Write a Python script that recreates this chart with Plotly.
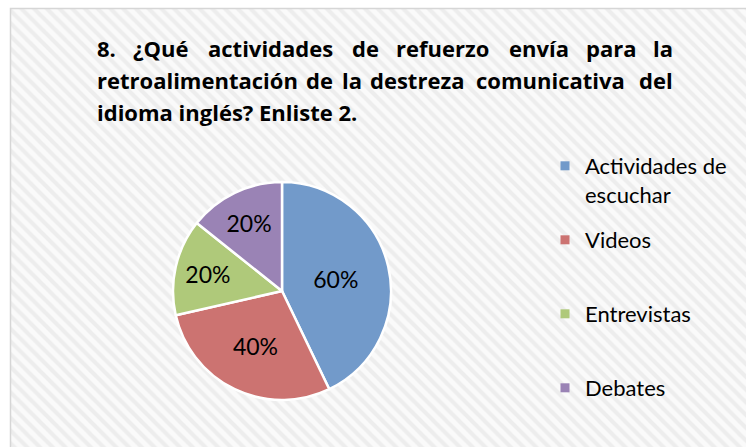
import plotly.graph_objects as go

# Figure size in pixels
W, H = 746, 447

# Survey answers: reinforcement activities (two answers per respondent)
categories = ["Actividades de escuchar", "Videos", "Entrevistas", "Debates"]
legend_labels = ["Actividades de<br>escuchar", "Videos", "Entrevistas", "Debates"]
values = [60, 40, 20, 20]
slice_colors = ["#729ACA", "#CC7371", "#AFC97A", "#9A83B5"]

# Title, split into its three printed lines
title_lines = [
    ["8.", "¿Qué", "actividades", "de", "refuerzo", "envía", "para", "la"],
    ["retroalimentación", "de", "la", "destreza", "comunicativa", "del"],
    ["idioma inglés? Enliste 2."],
]

FONT = "Lato"
TITLE_FONT = "Open Sans"
TITLE_LEFT, TITLE_RIGHT = 95, 675
TITLE_Y = [48, 80, 112]
# centres of the inner words on the justified lines
TITLE_INNER_X = [
    [160, 270, 365, 442, 539, 611],
    [319, 352, 417, 550],
    [],
]

# pie geometry (pixels)
PIE_CX, PIE_CY, PIE_R = 282, 291, 109


def px_x(x):
    return x / W


def px_y(y):
    return 1 - y / H


fig = go.Figure()

# hatched chart area
CX0, CY0 = 10.5, 8.5
fig.add_trace(go.Scatter(
    x=[CX0, W + 5, W + 5, CX0, CX0],
    y=[CY0, CY0, H + 5, H + 5, CY0],
    mode="lines",
    line=dict(width=0, color="rgba(0,0,0,0)"),
    fill="toself",
    fillcolor="white",
    fillpattern=dict(shape="\\", size=9, solidity=0.45,
                     fgcolor="#e0e0e0", bgcolor="#fafafa"),
    hoverinfo="skip",
    showlegend=False,
))

# pie
fig.add_trace(go.Pie(
    labels=categories,
    values=values,
    sort=False,
    direction="clockwise",
    rotation=0,
    marker=dict(colors=slice_colors, line=dict(color="white", width=2.5)),
    texttemplate="%{value}%",
    textposition="inside",
    insidetextorientation="horizontal",
    textfont=dict(family=FONT, size=23, color="black"),
    domain=dict(x=[px_x(PIE_CX - PIE_R), px_x(PIE_CX + PIE_R)],
                y=[px_y(PIE_CY + PIE_R), px_y(PIE_CY - PIE_R)]),
    showlegend=False,
    hoverinfo="skip",
))

# legend entries, each in its own legend box
LEG_TEXT_X = 585
LEG_Y = [180.5, 240, 314, 388]
for i, (lab, col) in enumerate(zip(legend_labels, slice_colors)):
    name = "legend" if i == 0 else f"legend{i + 1}"
    fig.add_trace(go.Scatter(
        x=[None], y=[None], mode="markers", name=lab,
        marker=dict(symbol="square", size=9, color=col),
        legend=name, showlegend=True,
    ))
    fig.update_layout({name: dict(
        x=px_x(LEG_TEXT_X - 40), y=px_y(LEG_Y[i]),
        xanchor="left", yanchor="middle",
        bgcolor="rgba(0,0,0,0)", borderwidth=0,
        valign="top", itemclick=False,
        font=dict(family=FONT, size=22, color="black"),
    )})

# title, justified word by word
annotations = []
tf = dict(family=TITLE_FONT, size=22, color="black")
for words, y, inner in zip(title_lines, TITLE_Y, TITLE_INNER_X):
    annotations.append(dict(x=TITLE_LEFT, y=y, xref="x", yref="y",
                            text=f"<b>{words[0]}</b>", showarrow=False,
                            xanchor="left", yanchor="middle", font=tf))
    if len(words) == 1:
        continue
    for w, cx in zip(words[1:-1], inner):
        annotations.append(dict(x=cx, y=y, xref="x", yref="y",
                                text=f"<b>{w}</b>", showarrow=False,
                                xanchor="center", yanchor="middle", font=tf))
    annotations.append(dict(x=TITLE_RIGHT, y=y, xref="x", yref="y",
                            text=f"<b>{words[-1]}</b>", showarrow=False,
                            xanchor="right", yanchor="middle", font=tf))

fig.update_layout(
    width=W, height=H,
    margin=dict(l=0, r=0, t=0, b=0),
    paper_bgcolor="white",
    plot_bgcolor="white",
    xaxis=dict(range=[0, W], visible=False, fixedrange=True),
    yaxis=dict(range=[H, 0], visible=False, fixedrange=True),
    annotations=annotations,
    uniformtext=dict(minsize=23, mode="show"),
    shapes=[dict(type="rect", xref="x", yref="y",
                 x0=CX0, y0=CY0, x1=W + 5, y1=H + 5,
                 line=dict(color="#d6d6d6", width=1.5),
                 fillcolor="rgba(0,0,0,0)", layer="above")],
)

fig.write_html("out.html")
